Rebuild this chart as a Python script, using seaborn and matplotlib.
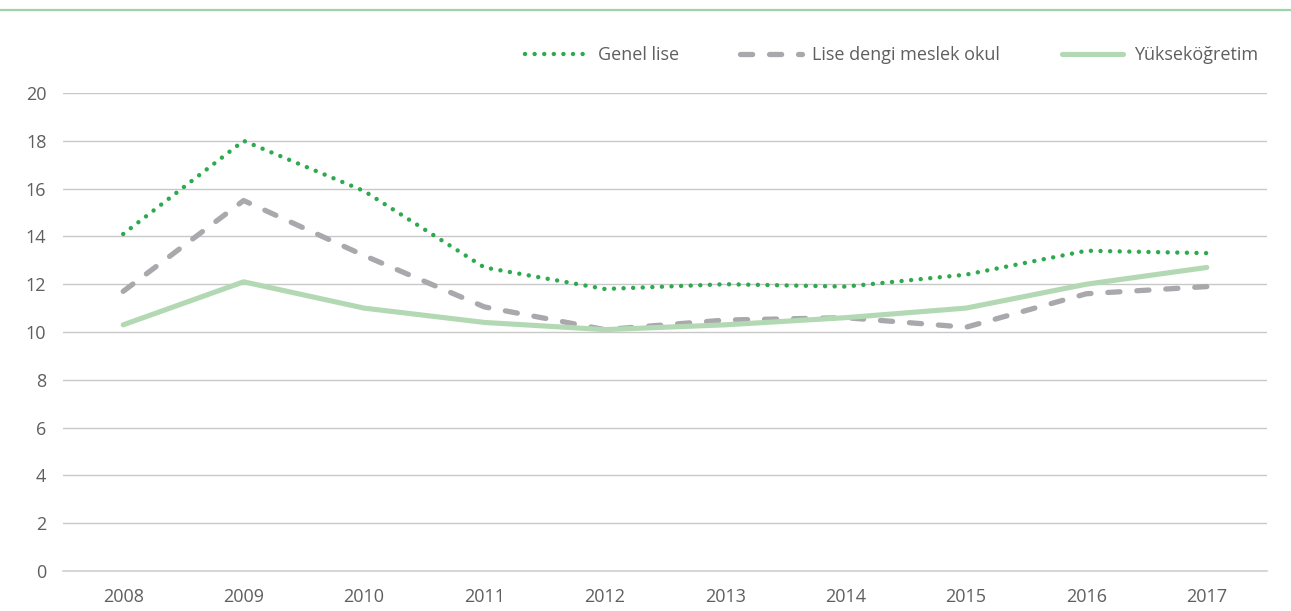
import matplotlib
matplotlib.use("Agg")
import matplotlib.pyplot as plt
import seaborn as sns
import pandas as pd

years = ["2008", "2009", "2010", "2011", "2012", "2013", "2014", "2015", "2016", "2017"]
genel_lise = [14.1, 18.0, 15.9, 12.7, 11.8, 12.0, 11.9, 12.4, 13.4, 13.3]
meslek_okul = [11.7, 15.5, 13.2, 11.05, 10.1, 10.5, 10.6, 10.2, 11.6, 11.9]
yuksekogretim = [10.3, 12.1, 11.0, 10.4, 10.1, 10.3, 10.6, 11.0, 12.0, 12.7]
series_names = ["Genel lise", "Lise dengi meslek okul", "Yükseköğretim"]
y_ticks = [0, 2, 4, 6, 8, 10, 12, 14, 16, 18, 20]

sns.set_theme(style="white")
plt.rcParams["font.family"] = ["Open Sans", "DejaVu Sans"]

text_color = "#5f5f5f"
grid_color = "#c8c8c8"

df = pd.DataFrame({
    "idx": list(range(len(years))) * 3,
    "value": genel_lise + meslek_okul + yuksekogretim,
    "series": [series_names[0]] * len(years) + [series_names[1]] * len(years)
              + [series_names[2]] * len(years),
})

fig = plt.figure(figsize=(12.91, 6.11), dpi=100)
ax = fig.add_axes([63 / 1291, 40 / 611, 1204 / 1291, 478 / 611])

palette = {series_names[0]: "#2eaa4e", series_names[1]: "#a9a9ad", series_names[2]: "#b3d9b4"}
sns.lineplot(data=df, x="idx", y="value", hue="series", palette=palette,
             ax=ax, legend=False, sort=False)

styles = [
    dict(lw=3.2, dashes=(0.01, 2.15), dash_capstyle="round"),
    dict(lw=3.8, dashes=(2.3, 3.2), dash_capstyle="round"),
    dict(lw=3.7, solid_capstyle="round"),
]
for line, st in zip(ax.get_lines(), styles):
    line.set_linewidth(st["lw"])
    if "dashes" in st:
        line.set_dashes(st["dashes"])
        line.set_dash_capstyle(st["dash_capstyle"])
    else:
        line.set_solid_capstyle(st["solid_capstyle"])

ax.set_xlim(-0.5, len(years) - 0.5)
ax.set_ylim(0, 20)
ax.set_yticks(y_ticks)
ax.set_yticklabels([str(t) for t in y_ticks])
ax.set_xticks(range(len(years)))
ax.set_xticklabels(years)
ax.set_xticks([i - 0.5 for i in range(len(years) + 1)], minor=True)
ax.tick_params(axis="x", which="major", length=0, pad=12, labelsize=13, labelcolor=text_color)
ax.tick_params(axis="x", which="minor", length=7, width=1, color="#d0d0d0", direction="out")
ax.tick_params(axis="y", length=0, pad=12, labelsize=13, labelcolor=text_color)
ax.set_xlabel("")
ax.set_ylabel("")

ax.yaxis.grid(True, color=grid_color, lw=1)
ax.set_axisbelow(True)
for side in ["top", "right", "left"]:
    ax.spines[side].set_visible(False)
ax.spines["bottom"].set_color("#d0d0d0")
ax.spines["bottom"].set_linewidth(1.2)

handles = ax.get_lines()[:3]
leg = ax.legend(handles, series_names, loc="upper right", bbox_to_anchor=(1.003, 1.125),
                ncol=3, frameon=False, handlelength=3.4, columnspacing=3.4,
                handletextpad=0.6, fontsize=13, borderaxespad=0.3)
for t in leg.get_texts():
    t.set_color(text_color)

fig.add_artist(plt.Line2D([0, 1], [1 - 10 / 611, 1 - 10 / 611], transform=fig.transFigure,
                          color="#9dd3a8", lw=1.6))

fig.savefig("out.png", dpi=100)
